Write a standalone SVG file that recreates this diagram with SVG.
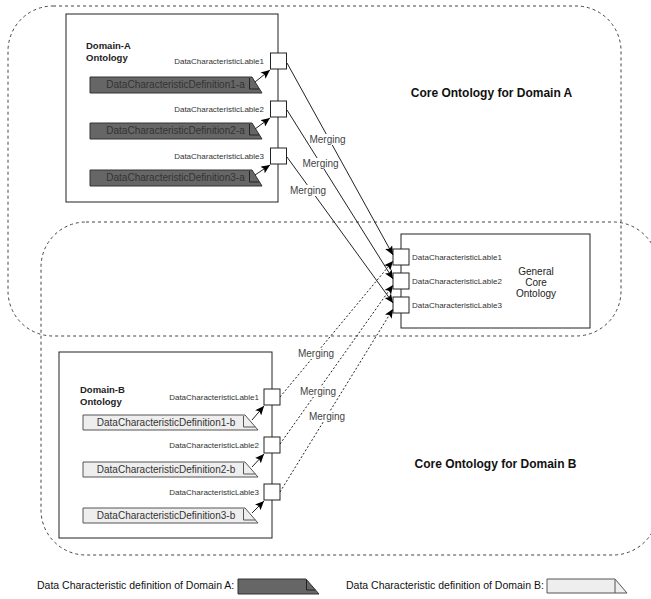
<svg xmlns="http://www.w3.org/2000/svg" width="651" height="599" viewBox="0 0 651 599">
  <defs>
    <style>
      text { font-family: "Liberation Sans", Arial, sans-serif; fill: #222; }
      .zone { fill: none; stroke: #444; stroke-width: 1; stroke-dasharray: 3 3; }
      .box { fill: #fff; stroke: #222; stroke-width: 1; }
      .port { fill: #fff; stroke: #222; stroke-width: 1; }
      .plabel { font-size: 8px; fill: #333; }
      .title { font-size: 12px; font-weight: bold; fill: #111; }
      .name { font-size: 9.5px; font-weight: bold; fill: #222; }
      .defA { fill: #666; stroke: #333; stroke-width: 1; }
      .defB { fill: #eee; stroke: #555; stroke-width: 1; }
      .fold { fill: none; stroke-width: 1; }
      .deftext { font-size: 10px; fill: #333; text-anchor: middle; }
      .link { fill: none; stroke: #222; stroke-width: 1; }
      .linkB { fill: none; stroke: #222; stroke-width: 1; stroke-dasharray: 2 2; }
      .merge { font-size: 10px; fill: #444; text-anchor: middle; }
      .legend { font-size: 10.5px; fill: #111; }
    </style>
    <marker id="arrow" viewBox="0 0 10 8" refX="9" refY="4" markerWidth="10" markerHeight="8" markerUnits="userSpaceOnUse" orient="auto">
      <path d="M0,0 L9,4 L0,8 L2,4 z" fill="#000"/>
    </marker>
  </defs>

  <rect x="0" y="0" width="651" height="599" fill="#fff"/>

  <!-- Domain zones -->
  <g id="zone-a">
    <rect class="zone" x="8" y="6" width="613" height="330" rx="45" ry="45"/>
    <text class="title" x="491.5" y="97" text-anchor="middle">Core Ontology for Domain A</text>
  </g>
  <g id="zone-b">
    <rect class="zone" x="41" y="222" width="617" height="333" rx="45" ry="45"/>
    <text class="title" x="495.5" y="468" text-anchor="middle">Core Ontology for Domain B</text>
  </g>

  <!-- Domain-A ontology -->
  <g id="domain-a">
    <rect class="box" x="66" y="14" width="212" height="188"/>
    <text class="name" x="86" y="49">Domain-A</text>
    <text class="name" x="86" y="61">Ontology</text>
  </g>
  <g id="def-a1">
    <polygon class="defA" points="90,77 252,77 262,93 90,93"/>
    <path class="fold" stroke="#222" d="M249.5,78 L249.5,89 L259.3,89"/>
    <text class="deftext" x="175.5" y="87.5">DataCharacteristicDefinition1-a</text>
  </g>
  <g id="def-a2">
    <polygon class="defA" points="90,123 252,123 262,139 90,139"/>
    <path class="fold" stroke="#222" d="M249.5,124 L249.5,135 L259.3,135"/>
    <text class="deftext" x="175.5" y="133.5">DataCharacteristicDefinition2-a</text>
  </g>
  <g id="def-a3">
    <polygon class="defA" points="90,170 252,170 262,186 90,186"/>
    <path class="fold" stroke="#222" d="M249.5,171 L249.5,182 L259.3,182"/>
    <text class="deftext" x="175.5" y="180.5">DataCharacteristicDefinition3-a</text>
  </g>
  <g id="port-a1">
    <rect class="port" x="270.5" y="53" width="16" height="16"/>
    <text class="plabel" x="264" y="64" text-anchor="end">DataCharacteristicLable1</text>
  </g>
  <g id="port-a2">
    <rect class="port" x="270.5" y="101" width="16" height="16"/>
    <text class="plabel" x="264" y="112" text-anchor="end">DataCharacteristicLable2</text>
  </g>
  <g id="port-a3">
    <rect class="port" x="270.5" y="148" width="16" height="16"/>
    <text class="plabel" x="264" y="158.5" text-anchor="end">DataCharacteristicLable3</text>
  </g>

  <!-- General core ontology -->
  <g id="core">
    <rect class="box" x="401" y="234" width="189" height="94"/>
    <text class="name" x="536" y="274.5" text-anchor="middle" font-weight="normal" style="font-weight:normal;font-size:10px">General</text>
    <text class="name" x="536" y="285.5" text-anchor="middle" style="font-weight:normal;font-size:10px">Core</text>
    <text class="name" x="536" y="296.5" text-anchor="middle" style="font-weight:normal;font-size:10px">Ontology</text>
  </g>
  <g id="core-port1">
    <rect class="port" x="393" y="249" width="16" height="16"/>
    <text class="plabel" x="412" y="260">DataCharacteristicLable1</text>
  </g>
  <g id="core-port2">
    <rect class="port" x="393" y="273" width="16" height="16"/>
    <text class="plabel" x="412" y="284">DataCharacteristicLable2</text>
  </g>
  <g id="core-port3">
    <rect class="port" x="393" y="297" width="16" height="16"/>
    <text class="plabel" x="412" y="307.5">DataCharacteristicLable3</text>
  </g>

  <!-- Domain-B ontology -->
  <g id="domain-b">
    <rect class="box" x="59" y="352" width="213" height="186"/>
    <text class="name" x="80" y="393">Domain-B</text>
    <text class="name" x="80" y="404.5">Ontology</text>
  </g>
  <g id="def-b1">
    <polygon class="defB" points="83,415 245,415 258,430 83,430"/>
    <path class="fold" stroke="#555" d="M243.5,416 L243.5,427 L255.5,427"/>
    <text class="deftext" x="166" y="426">DataCharacteristicDefinition1-b</text>
  </g>
  <g id="def-b2">
    <polygon class="defB" points="83,462 245,462 258,477 83,477"/>
    <path class="fold" stroke="#555" d="M243.5,463 L243.5,474 L255.5,474"/>
    <text class="deftext" x="166" y="473">DataCharacteristicDefinition2-b</text>
  </g>
  <g id="def-b3">
    <polygon class="defB" points="83,508 245,508 258,523 83,523"/>
    <path class="fold" stroke="#555" d="M243.5,509 L243.5,520 L255.5,520"/>
    <text class="deftext" x="166" y="519">DataCharacteristicDefinition3-b</text>
  </g>
  <g id="port-b1">
    <rect class="port" x="264" y="389" width="16" height="16"/>
    <text class="plabel" x="259" y="400" text-anchor="end">DataCharacteristicLable1</text>
  </g>
  <g id="port-b2">
    <rect class="port" x="264" y="437" width="16" height="16"/>
    <text class="plabel" x="259" y="448" text-anchor="end">DataCharacteristicLable2</text>
  </g>
  <g id="port-b3">
    <rect class="port" x="264" y="484" width="16" height="16"/>
    <text class="plabel" x="259" y="495" text-anchor="end">DataCharacteristicLable3</text>
  </g>

  <!-- Connectors -->
  <g id="connectors">
    <line class="link" x1="255" y1="82" x2="270" y2="70" marker-end="url(#arrow)"/>
    <line class="link" x1="255" y1="129" x2="270" y2="118" marker-end="url(#arrow)"/>
    <line class="link" x1="255" y1="175" x2="270" y2="165" marker-end="url(#arrow)"/>
    <line class="link" x1="252" y1="420" x2="264" y2="406" marker-end="url(#arrow)"/>
    <line class="link" x1="252" y1="467" x2="264" y2="454" marker-end="url(#arrow)"/>
    <line class="link" x1="252" y1="513" x2="264" y2="501" marker-end="url(#arrow)"/>

    <line class="link" x1="287" y1="63" x2="393" y2="255" marker-end="url(#arrow)"/>
    <line class="link" x1="287" y1="110" x2="393" y2="279" marker-end="url(#arrow)"/>
    <line class="link" x1="287" y1="157" x2="393" y2="303" marker-end="url(#arrow)"/>
    <line class="linkB" x1="280" y1="397" x2="393" y2="261" marker-end="url(#arrow)"/>
    <line class="linkB" x1="280" y1="444" x2="393" y2="285" marker-end="url(#arrow)"/>
    <line class="linkB" x1="280" y1="492" x2="393" y2="309" marker-end="url(#arrow)"/>

    <rect x="309.5" y="134" width="36" height="11" fill="#fff"/>
    <text class="merge" x="327.5" y="143">Merging</text>
    <rect x="302.5" y="158" width="36" height="11" fill="#fff"/>
    <text class="merge" x="320.5" y="167">Merging</text>
    <rect x="290" y="185" width="36" height="11" fill="#fff"/>
    <text class="merge" x="308" y="194">Merging</text>
    <rect x="298" y="348" width="36" height="11" fill="#fff"/>
    <text class="merge" x="316" y="357">Merging</text>
    <rect x="300" y="386" width="36" height="11" fill="#fff"/>
    <text class="merge" x="318" y="395">Merging</text>
    <rect x="309" y="411" width="36" height="11" fill="#fff"/>
    <text class="merge" x="327" y="420">Merging</text>
  </g>

  <!-- Legend -->
  <g id="legend-a">
    <text class="legend" x="37" y="589">Data Characteristic definition of Domain A:</text>
    <polygon class="defA" points="238,579 306,579 319,594 238,594"/>
    <path class="fold" stroke="#222" d="M306.5,580 L306.5,590 L315.5,590"/>
  </g>
  <g id="legend-b">
    <text class="legend" x="346" y="589">Data Characteristic definition of Domain B:</text>
    <polygon class="defB" points="547,579 615,579 627,593 547,593"/>
    <path class="fold" stroke="#555" d="M615,580 L615,593"/>
  </g>
</svg>
